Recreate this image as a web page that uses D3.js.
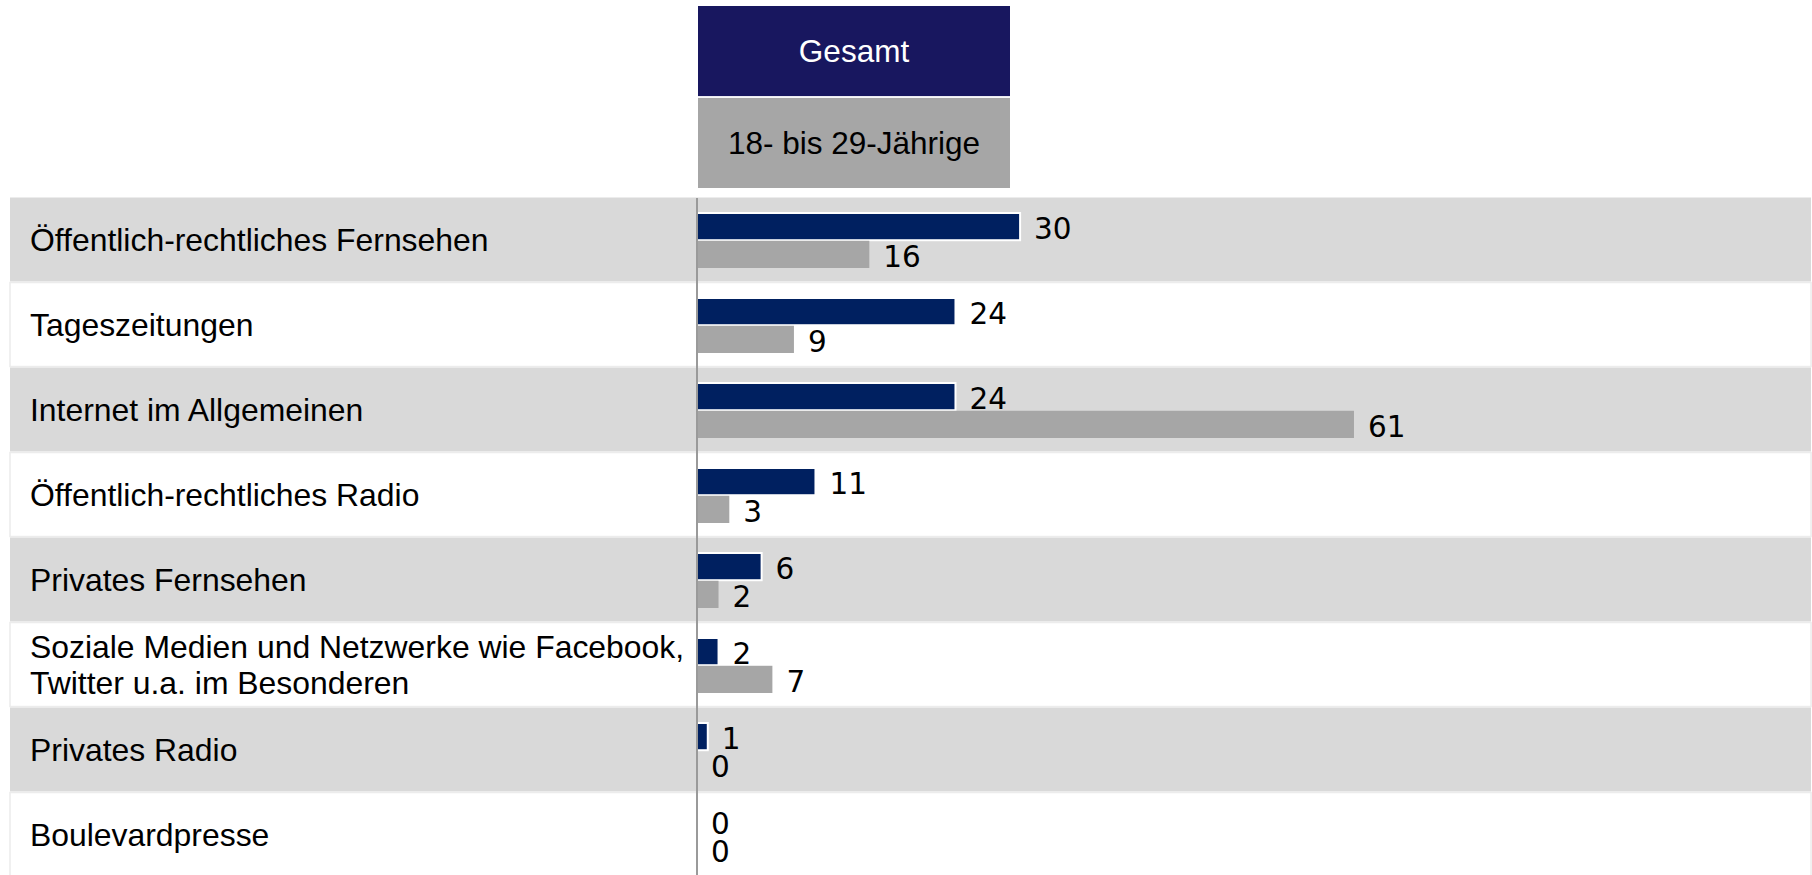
<!DOCTYPE html>
<html>
<head>
<meta charset="utf-8">
<script src="https://cdn.jsdelivr.net/npm/d3@7"></script>
<style>
  html, body { margin: 0; padding: 0; background: #ffffff; }
  svg { display: block; }
</style>
</head>
<body>
<div id="chart"></div>
<script>
// ---- Data ----
const categories = [
  "Öffentlich-rechtliches Fernsehen",
  "Tageszeitungen",
  "Internet im Allgemeinen",
  "Öffentlich-rechtliches Radio",
  "Privates Fernsehen",
  "Soziale Medien und Netzwerke wie Facebook,\nTwitter u.a. im Besonderen",
  "Privates Radio",
  "Boulevardpresse"
];
const seriesNames = ["Gesamt", "18- bis 29-Jährige"];
const gesamtValues = [30, 24, 24, 11, 6, 2, 1, 0];
const jungValues = [16, 9, 61, 3, 2, 7, 0, 0];

// ---- Layout ----
const W = 1812, H = 875;
const axisX = 697;
const colors = ["#002060", "#a6a6a6"];
const headerColors = ["#18175f", "#a6a6a6"];
const headerTextColors = ["#ffffff", "#000000"];

const svg = d3.select("#chart").append("svg")
  .attr("width", W).attr("height", H);

const y = d3.scaleBand().domain(categories).range([197, 877]).paddingInner(0);
const x = d3.scaleLinear().domain([0, 100]).range([axisX, axisX + 1077]);
const inner = d3.scaleBand().domain(seriesNames).range([16, 71]).paddingInner(0.02);

// Header (legend) boxes
const header = d3.scaleBand().domain(seriesNames).range([6, 188]).paddingInner(0.02);
const hg = svg.append("g");
hg.selectAll("rect").data(seriesNames).join("rect")
  .attr("x", 698).attr("width", 312)
  .attr("y", d => header(d)).attr("height", header.bandwidth())
  .attr("fill", (d, i) => headerColors[i]);
hg.selectAll("text").data(seriesNames).join("text")
  .attr("x", 854)
  .attr("y", d => header(d) + header.bandwidth() / 2 + 11)
  .attr("text-anchor", "middle")
  .attr("font-family", "'Liberation Sans', Arial, sans-serif")
  .attr("font-size", 31.5)
  .attr("fill", (d, i) => headerTextColors[i])
  .text(d => d);

// Row bands
const rows = svg.append("g");
rows.selectAll("rect").data(categories).join("rect")
  .attr("x", 10).attr("width", W - 11)
  .attr("y", d => y(d) + 0.5).attr("height", y.bandwidth() - 1)
  .attr("fill", (d, i) => i % 2 === 0 ? "#d9d9d9" : "#ffffff")
  .attr("stroke", (d, i) => i % 2 === 0 ? "none" : "#ececec")
  .attr("stroke-width", 1.5);

// Category labels
const labels = svg.append("g")
  .attr("font-family", "'Liberation Sans', Arial, sans-serif")
  .attr("font-size", 31.9)
  .attr("fill", "#000");
categories.forEach(c => {
  const lines = c.split("\n");
  const cy = y(c) + y.bandwidth() / 2;
  const lh = 36;
  lines.forEach((ln, j) => {
    labels.append("text")
      .attr("x", 30)
      .attr("y", cy + 11.5 + (j - (lines.length - 1) / 2) * lh)
      .text(ln);
  });
});

// Bars
const data = categories.map((c, i) => ({ c, vals: [gesamtValues[i], jungValues[i]] }));
const bars = svg.append("g");
data.forEach(d => {
  d.vals.forEach((v, k) => {
    const s = seriesNames[k];
    const by = y(d.c) + inner(s);
    const bh = inner.bandwidth();
    if (v > 0) {
      bars.append("rect")
        .attr("x", x(0))
        .attr("y", by)
        .attr("width", x(v) - x(0))
        .attr("height", bh)
        .attr("fill", colors[k])
        .attr("stroke", k === 0 ? "#ffffff" : "none")
        .attr("stroke-width", 2);
    }
    bars.append("text")
      .attr("x", x(v) + 14)
      .attr("y", by + bh - 1.5)
      .attr("font-family", "'DejaVu Sans', Verdana, sans-serif")
      .attr("font-size", 29.5)
      .attr("fill", "#000")
      .text(v);
  });
});

// Axis line
svg.append("line")
  .attr("x1", axisX).attr("x2", axisX)
  .attr("y1", 198).attr("y2", H)
  .attr("stroke", "#9a9a9a").attr("stroke-width", 2);
</script>
</body>
</html>
